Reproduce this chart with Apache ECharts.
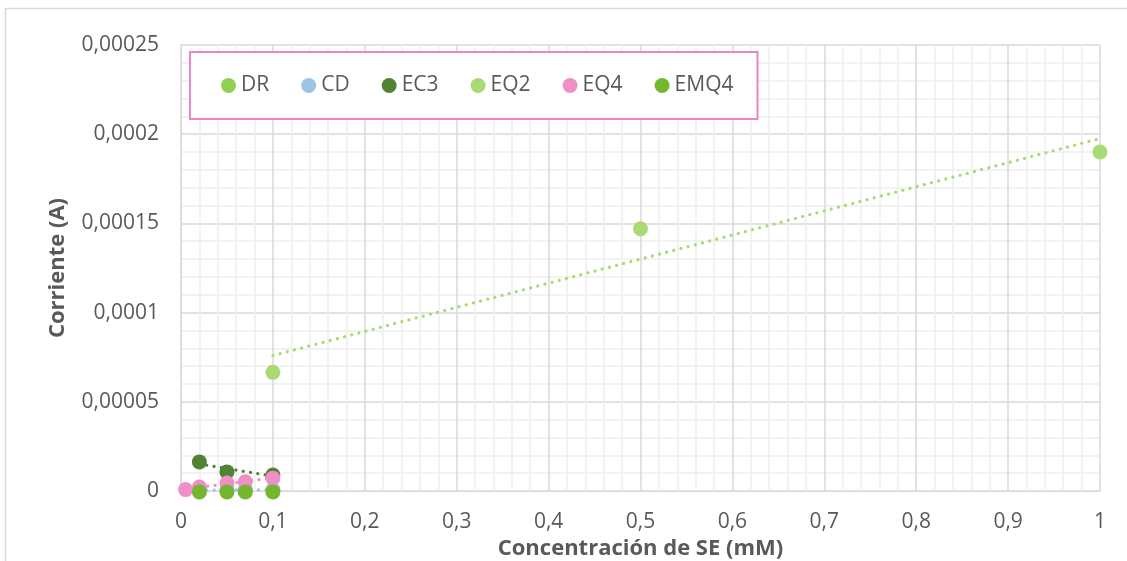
<!DOCTYPE html>
<html>
<head>
<meta charset="utf-8">
<script src="https://cdn.jsdelivr.net/npm/echarts@6/dist/echarts.min.js"></script>
<style>html,body{margin:0;padding:0;background:#fff}#c{width:1127px;height:561px}</style>
</head>
<body>
<div id="c"></div>
<script>
// ---- data ----
var seriesNames = ['DR', 'CD', 'EC3', 'EQ2', 'EQ4', 'EMQ4'];
var colors = ['#92d050', '#9dc3e6', '#548235', '#a9da74', '#f08fc6', '#74b72e'];
var drX = [0.02, 0.05, 0.07, 0.1];
var drY = [0.0000003, 0.0000004, 0.0000004, 0.0000005];
var cdX = [0.02, 0.05, 0.07, 0.1];
var cdY = [0.0000005, 0.0000006, 0.0000006, 0.0000007];
var ec3X = [0.02, 0.05, 0.1];
var ec3Y = [0.0000163, 0.0000107, 0.0000090];
var eq2X = [0.1, 0.5, 1];
var eq2Y = [0.0000665, 0.000147, 0.00019];
var eq4X = [0.005, 0.02, 0.05, 0.07, 0.1];
var eq4Y = [0.0000008, 0.0000022, 0.0000045, 0.0000052, 0.0000072];
var emq4X = [0.02, 0.05, 0.07, 0.1];
var emq4Y = [-0.0000005, -0.0000005, -0.0000005, -0.0000005];
var xTicks = [0, 0.1, 0.2, 0.3, 0.4, 0.5, 0.6, 0.7, 0.8, 0.9, 1];
var yTicks = [0, 0.00005, 0.0001, 0.00015, 0.0002, 0.00025];
// which series have a (dotted) linear trendline
var trendFor = ['CD', 'EC3', 'EQ2', 'EQ4'];

var allX = [drX, cdX, ec3X, eq2X, eq4X, emq4X];
var allY = [drY, cdY, ec3Y, eq2Y, eq4Y, emq4Y];

function pairs(xs, ys) { return xs.map(function (x, i) { return [x, ys[i]]; }); }
function fit(xs, ys) {
  var n = xs.length, mx = 0, my = 0, sxx = 0, sxy = 0;
  for (var i = 0; i < n; i++) { mx += xs[i]; my += ys[i]; }
  mx /= n; my /= n;
  for (i = 0; i < n; i++) { sxx += (xs[i] - mx) * (xs[i] - mx); sxy += (xs[i] - mx) * (ys[i] - my); }
  var b = sxy / sxx, a = my - b * mx;
  var x0 = Math.min.apply(null, xs), x1 = Math.max.apply(null, xs);
  return [[x0, a + b * x0], [x1, a + b * x1]];
}
function fmt(v) { return String(Number(v.toPrecision(6))).replace('.', ','); }

var series = [];
seriesNames.forEach(function (name, i) {
  if (trendFor.indexOf(name) >= 0) {
    series.push({
      type: 'line', name: name + '_trend', data: fit(allX[i], allY[i]),
      symbol: 'none', silent: true, z: 1, clip: false,
      lineStyle: { color: colors[i], width: 3.2, type: [0.1, 7.3], cap: 'round' }
    });
  }
});
seriesNames.forEach(function (name, i) {
  series.push({
    type: 'scatter', name: name, data: pairs(allX[i], allY[i]),
    symbol: 'circle', symbolSize: 15, z: 3, clip: false,
    itemStyle: { color: colors[i], opacity: 1 }
  });
});

var chart = echarts.init(document.getElementById('c'), null, { renderer: 'canvas' });
chart.setOption({
  animation: false,
  backgroundColor: '#fff',
  color: colors,
  graphic: [{
    type: 'rect', shape: { x: 5.5, y: 8.5, width: 1140, height: 600 },
    style: { fill: 'none', stroke: '#d9d9d9', lineWidth: 1.5 }, z: -10
  }],
  legend: {
    data: seriesNames.map(function (n, i) { return { name: n, itemStyle: { color: colors[i] } }; }),
    left: 190, top: 52,
    orient: 'horizontal',
    icon: 'circle', itemWidth: 15, itemHeight: 15, itemGap: 32,
    padding: [23, 24, 23, 31],
    backgroundColor: '#fff',
    borderColor: '#ec86c3', borderWidth: 2,
    textStyle: { fontFamily: 'Open Sans', fontSize: 21, color: '#595959' }
  },
  grid: { left: 181, right: 27, top: 45, bottom: 70, containLabel: false, outerBoundsMode: 'none' },
  xAxis: {
    type: 'value', min: 0, max: 1, interval: 0.1,
    name: 'Concentración de SE (mM)', nameLocation: 'middle', nameGap: 46,
    nameTextStyle: { fontFamily: 'Open Sans', fontSize: 22, fontWeight: 'bold', color: '#595959' },
    axisLine: { show: true, lineStyle: { color: '#d9d9d9', width: 1 } },
    axisTick: { show: false },
    axisLabel: { formatter: fmt, fontFamily: 'Open Sans', fontSize: 21, color: '#595959', margin: 21 },
    splitLine: { show: true, lineStyle: { color: '#d9d9d9', width: 1.5 } },
    minorTick: { show: false, splitNumber: 5 },
    minorSplitLine: { show: true, lineStyle: { color: '#eeeeee', width: 1.5 } }
  },
  yAxis: {
    type: 'value', min: 0, max: 0.00025, interval: 0.00005,
    name: 'Corriente (A)', nameLocation: 'middle', nameGap: 112, nameRotate: 90,
    nameTextStyle: { fontFamily: 'Open Sans', fontSize: 22, fontWeight: 'bold', color: '#595959' },
    axisLine: { show: true, lineStyle: { color: '#d9d9d9', width: 1 } },
    axisTick: { show: false },
    axisLabel: { formatter: fmt, fontFamily: 'Open Sans', fontSize: 21, color: '#595959', margin: 22 },
    splitLine: { show: true, lineStyle: { color: '#d9d9d9', width: 1.5 } },
    minorTick: { show: false, splitNumber: 5 },
    minorSplitLine: { show: true, lineStyle: { color: '#eeeeee', width: 1.5 } }
  },
  series: series
});
</script>
</body>
</html>
